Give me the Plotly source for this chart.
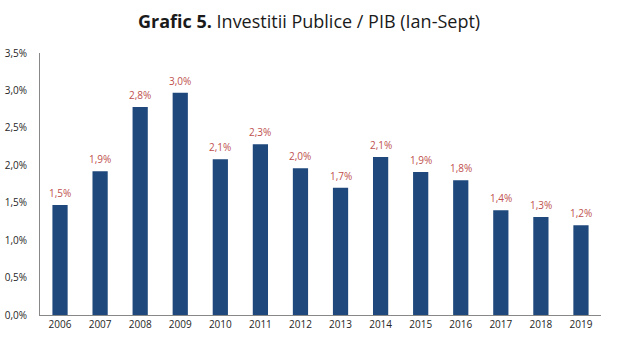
import plotly.graph_objects as go

years = ["2006", "2007", "2008", "2009", "2010", "2011", "2012",
         "2013", "2014", "2015", "2016", "2017", "2018", "2019"]
values = [1.47, 1.92, 2.78, 2.97, 2.08, 2.28, 1.96,
          1.70, 2.11, 1.91, 1.80, 1.40, 1.31, 1.20]
labels = ["1,5%", "1,9%", "2,8%", "3,0%", "2,1%", "2,3%", "2,0%",
          "1,7%", "2,1%", "1,9%", "1,8%", "1,4%", "1,3%", "1,2%"]
tick_vals = [0.0, 0.5, 1.0, 1.5, 2.0, 2.5, 3.0, 3.5]
tick_text = ["0,0%", "0,5%", "1,0%", "1,5%", "2,0%", "2,5%", "3,0%", "3,5%"]

fig = go.Figure(go.Bar(
    x=years, y=values,
    marker=dict(color="#1F497D", line=dict(width=0)),
    hoverinfo="skip",
))

# value labels above bars (category axis: x given as category index)
label_annotations = [
    dict(x=i, y=v, text=lb, xref="x", yref="y", showarrow=False,
         yanchor="middle", xanchor="center", yshift=12,
         font=dict(color="#C0504D", size=10, family="Open Sans"))
    for i, (v, lb) in enumerate(zip(values, labels))
]

fig.update_layout(
    width=620, height=363,
    margin=dict(l=40, r=19, t=53, b=48),
    paper_bgcolor="white", plot_bgcolor="white",
    bargap=0.62,
    showlegend=False,
    font=dict(family="Open Sans", size=10, color="#262626"),
    annotations=[dict(
        text="<b>Grafic 5.</b> Investitii Publice / PIB (Ian-Sept)",
        xref="paper", yref="paper", x=0.479, y=1.0, yshift=32,
        xanchor="center", yanchor="middle", showarrow=False,
        font=dict(size=18, color="#1a1a1a", family="Open Sans"),
    )] + label_annotations,
)
fig.update_xaxes(type="category", range=[-0.5, len(years) - 0.5],
                 showline=True, linecolor="#888888", linewidth=1,
                 ticks="", showgrid=False, automargin=False,
                 tickfont=dict(size=10, color="#262626"))
fig.update_yaxes(range=[0, 3.5], tickvals=tick_vals, ticktext=tick_text,
                 showline=True, linecolor="#888888", linewidth=1,
                 ticks="", showgrid=False, zeroline=False,
                 ticklabelstandoff=10, automargin=False,
                 tickfont=dict(size=10, color="#262626"))

fig.write_html("out.html", config={"displayModeBar": False},
               post_script="document.body.style.margin='0px';")
